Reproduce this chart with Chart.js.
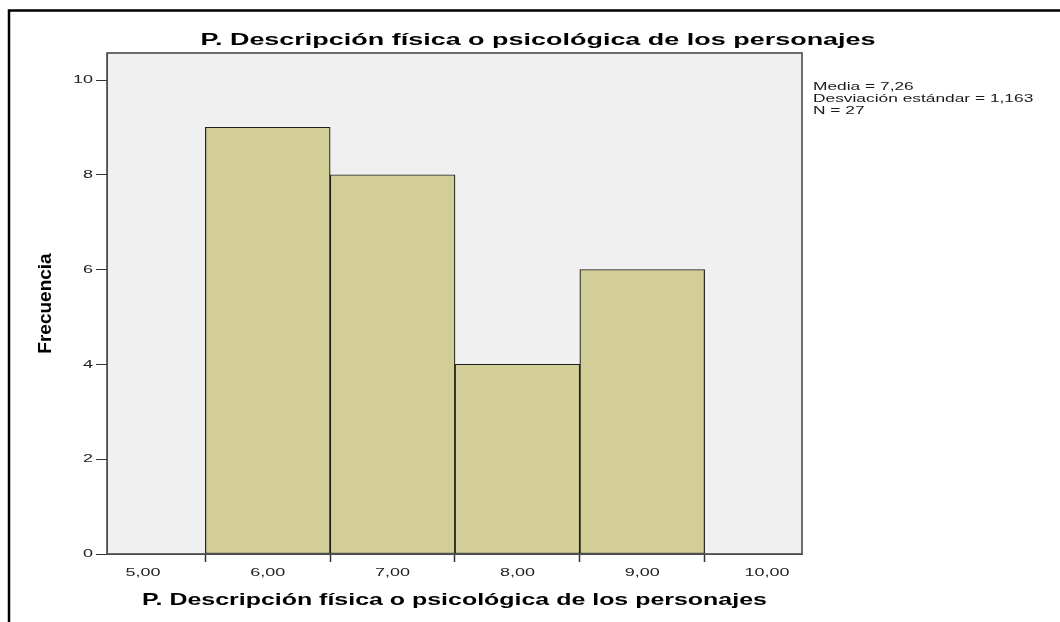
<!DOCTYPE html>
<html>
<head>
<meta charset="utf-8">
<script src="https://cdn.jsdelivr.net/npm/chart.js@4"></script>
<style>
  html, body { margin: 0; padding: 0; background: #fff; }
  canvas { display: block; }
</style>
</head>
<body>
<canvas id="hist" width="1060" height="622"></canvas>
<script>
// ── Data ─────────────────────────────────────────────────────────
const binCenters = [6, 7, 8, 9];
const frequencies = [9, 8, 4, 6];
const statsLines = ['Media = 7,26', 'Desviación estándar = 1,163', 'N = 27'];
const chartTitle = 'P. Descripción física o psicológica de los personajes';
const xTitle = 'P. Descripción física o psicológica de los personajes';
const yTitle = 'Frecuencia';

const FONT = '"Liberation Sans", Arial, sans-serif';
const TEXT_STRETCH = 1.55; // the source picture has wide, horizontally stretched lettering

const fmtComma = v => v.toFixed(2).replace('.', ',');

// widen horizontal text the way the reference image is; rotated text stays as is
const wideText = {
  id: 'wideText',
  beforeInit(chart) {
    const ctx = chart.ctx;
    const fill = ctx.fillText.bind(ctx);
    ctx.fillText = (text, x, y, maxWidth) => {
      const m = ctx.getTransform();
      if (Math.abs(m.b) > 1e-6) return fill(text, x, y, maxWidth);
      ctx.save();
      ctx.translate(x, y);
      ctx.scale(TEXT_STRETCH, 1);
      fill(text, 0, 0);
      ctx.restore();
    };
  }
};

// plot background, outer frame, plot border, heading + stats text
const decor = {
  id: 'decor',
  beforeDraw(chart) {
    const { ctx, chartArea: a } = chart;
    ctx.save();
    ctx.fillStyle = '#f0f0f0';
    ctx.fillRect(a.left, a.top, a.right - a.left, a.bottom - a.top);
    // outer frame (only top + left are inside the picture)
    ctx.strokeStyle = '#000';
    ctx.lineWidth = 2.5;
    ctx.beginPath();
    ctx.moveTo(9, 622); ctx.lineTo(9, 10.5); ctx.lineTo(1060, 10.5);
    ctx.stroke();
    ctx.restore();
  },
  afterDatasetsDraw(chart) {
    const { ctx, chartArea: a } = chart;
    ctx.save();
    ctx.strokeStyle = '#4a4a4a';
    ctx.lineWidth = 1.6;
    ctx.strokeRect(a.left, a.top, a.right - a.left, a.bottom - a.top);
    ctx.fillStyle = '#000';
    ctx.font = 'bold 17.4px ' + FONT;
    ctx.textAlign = 'center';
    ctx.textBaseline = 'alphabetic';
    ctx.fillText(chartTitle, 538, 44.5);
    ctx.font = '11.2px ' + FONT;
    ctx.textAlign = 'left';
    ctx.fillStyle = '#1a1a1a';
    statsLines.forEach((t, i) => ctx.fillText(t, 813, 89.5 + i * 12.4));
    ctx.restore();
  }
};

new Chart(document.getElementById('hist'), {
  type: 'bar',
  data: {
    datasets: [{
      data: binCenters.map((x, i) => ({ x, y: frequencies[i] })),
      backgroundColor: '#d3cd97',
      borderColor: '#1e1e1e',
      borderWidth: { top: 1, bottom: 1, left: 1.2, right: 1.2 },
      borderSkipped: false,
      barPercentage: 1,
      categoryPercentage: 1
    }]
  },
  options: {
    responsive: false,
    animation: false,
    layout: { padding: { left: 0, top: 53, right: 258, bottom: 0 } },
    plugins: { legend: { display: false }, tooltip: { enabled: false }, title: { display: false } },
    scales: {
      x: {
        type: 'linear',
        offset: false,
        min: 4.712,
        max: 10.28,
        afterFit: s => { s.height = 68; },
        grid: { drawOnChartArea: false, drawTicks: true, tickLength: 8, tickColor: '#333', tickWidth: 1.5 },
        border: { display: true, color: '#4a4a4a' },
        ticks: {
          stepSize: 1,
          includeBounds: false,
          padding: 4,
          color: '#222',
          font: { family: FONT, size: 11.6 },
          callback: v => fmtComma(v)
        },
        title: {
          display: true,
          text: xTitle,
          color: '#000',
          font: { family: FONT, size: 16.1, weight: 'bold' },
          padding: { top: 0, bottom: 12 }
        }
      },
      y: {
        min: 0,
        max: 10.57,
        afterFit: s => { s.width = 107; },
        grid: { drawOnChartArea: false, drawTicks: true, tickLength: 11, tickColor: '#333' },
        border: { display: true, color: '#4a4a4a' },
        ticks: {
          stepSize: 2,
          includeBounds: false,
          padding: 3,
          color: '#222',
          font: { family: FONT, size: 11.6 }
        },
        title: {
          display: true,
          text: yTitle,
          color: '#000',
          font: { family: FONT, size: 19, weight: 'bold' },
          padding: { top: 34.5, bottom: 0 }
        }
      }
    }
  },
  plugins: [wideText, decor]
});
</script>
</body>
</html>
